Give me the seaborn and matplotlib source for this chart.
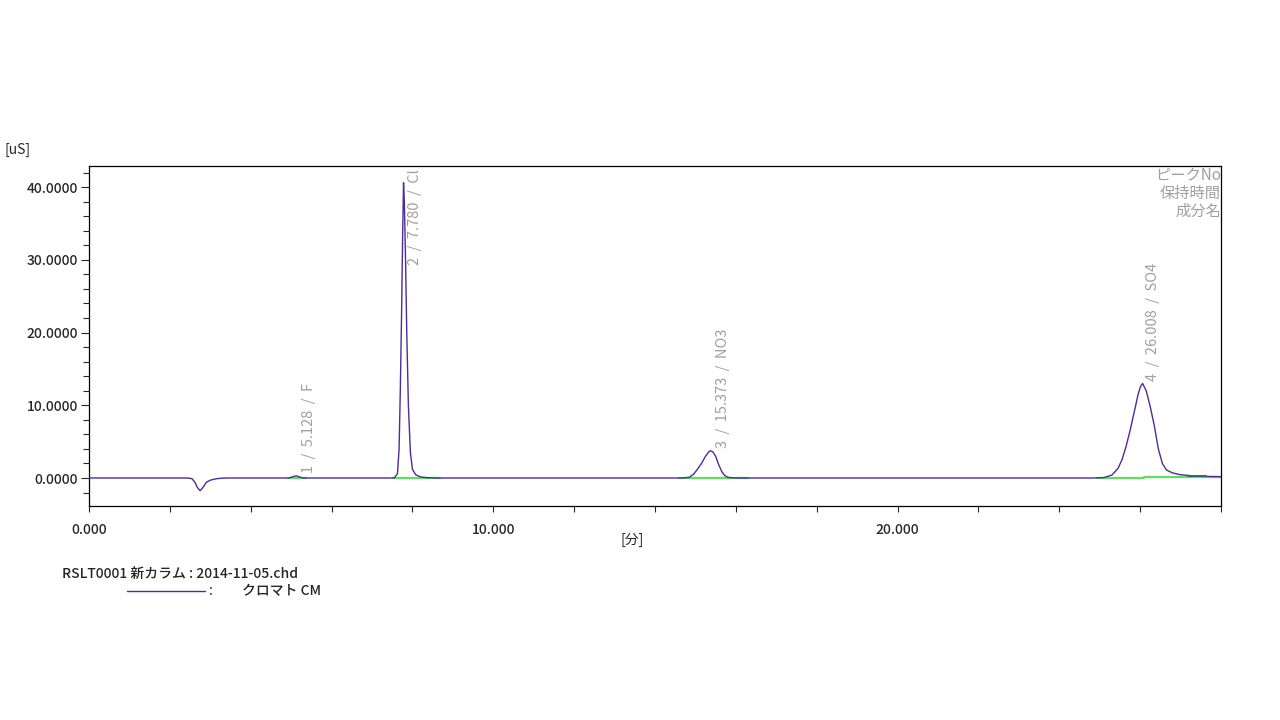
import numpy as np
import pandas as pd
import matplotlib
matplotlib.use('Agg')
import matplotlib.pyplot as plt
from matplotlib.ticker import MultipleLocator, FormatStrFormatter
import seaborn as sns

# chromatogram trace (time [min], signal [uS])
trace_time = [
  0.00, 2.45, 2.55, 2.62, 2.68, 2.75, 2.82, 2.90, 3.00, 3.15, 3.30, 3.50,
  4.95, 5.05, 5.13, 5.20, 5.30,
  7.55, 7.63, 7.67, 7.70, 7.73, 7.76, 7.78, 7.80, 7.83, 7.86, 7.90, 7.95,
  8.00, 8.08, 8.20, 8.35, 8.60,
  14.70, 14.85, 14.95, 15.05, 15.15, 15.25, 15.33, 15.37, 15.43, 15.50,
  15.57, 15.65, 15.72, 15.80, 15.90, 16.10,
  24.80, 25.10, 25.30, 25.45, 25.55, 25.65, 25.75, 25.85, 25.95, 26.01,
  26.06, 26.15, 26.25, 26.35, 26.45, 26.55, 26.65, 26.80, 27.00, 27.30,
  27.60, 28.00,
]
trace_signal = [
  0.00, 0.00, -0.10, -0.60, -1.30, -1.75, -1.30, -0.60, -0.30, -0.10, -0.02, 0.00,
  0.00, 0.20, 0.30, 0.15, 0.00,
  0.00, 0.60, 4.00, 12.0, 22.0, 34.0, 40.6, 38.0, 30.0, 20.0, 10.0, 3.50,
  1.20, 0.45, 0.15, 0.05, 0.00,
  0.00, 0.10, 0.50, 1.20, 2.00, 3.00, 3.60, 3.75, 3.60, 3.00,
  1.90, 0.90, 0.35, 0.10, 0.02, 0.00,
  0.00, 0.05, 0.40, 1.30, 2.50, 4.30, 6.50, 9.00, 11.5, 12.6,
  13.0, 12.0, 9.80, 7.20, 4.00, 2.00, 1.10, 0.70, 0.45, 0.30,
  0.22, 0.18,
]

# integration baselines (start, end, level at start, level at end)
base_start = [4.93, 7.52, 14.60, 24.93, 26.09]
base_end = [5.37, 8.69, 16.31, 26.09, 28.00]
base_y0 = [0.00, 0.00, 0.00, 0.00, 0.15]
base_y1 = [0.00, 0.00, 0.00, 0.00, 0.15]
tail_start, tail_end, tail_y = 27.18, 27.62, 0.25

# peak table
peak_no = [1, 2, 3, 4]
peak_time = [5.128, 7.780, 15.373, 26.008]
peak_height = [0.30, 40.6, 3.75, 13.0]
peak_name = ['F', 'Cl', 'NO3', 'SO4']

sns.set_style('white')
plt.rcParams['font.family'] = ['Noto Sans CJK JP', 'DejaVu Sans']

LINE = '#4a2c9c'
GREEN = '#5ee05e'
GREY = '#a0a0a0'

fig = plt.figure(figsize=(12.8, 7.2), dpi=100)
ax = fig.add_axes([89 / 1280, 1 - 506 / 720, (1221 - 89) / 1280, (506 - 166) / 720])

df = pd.DataFrame({'time': trace_time, 'signal': trace_signal})
sns.lineplot(data=df, x='time', y='signal', ax=ax, color=LINE, linewidth=1.0,
             estimator=None, sort=False, zorder=3)

for s, e, y0, y1 in zip(base_start, base_end, base_y0, base_y1):
  ax.plot([s, e], [y0, y1], color=GREEN, linewidth=1.6, zorder=2)
ax.plot([tail_start, tail_end], [tail_y, tail_y], color='#1f6f6f', linewidth=1.4, zorder=4)

ax.set_xlim(0, 28.0)
ax.set_ylim(-3.85, 42.9)

for n, t, h, name in zip(peak_no, peak_time, peak_height, peak_name):
  label = f'{n}  /  {t:.3f}  /  {name}'
  if h > 30:
    ax.annotate(label, xy=(t, 42.5), xytext=(8, 0), textcoords='offset points',
                rotation=90, ha='center', va='top', color=GREY, fontsize=10.5)
  else:
    ax.annotate(label, xy=(t, h), xytext=(9, 2), textcoords='offset points',
                rotation=90, ha='center', va='bottom', color=GREY, fontsize=10.5)

ax.text(1.0, 0.995, 'ピークNo\n保持時間\n成分名', transform=ax.transAxes,
        ha='right', va='top', color=GREY, fontsize=11, linespacing=1.05)

ax.xaxis.set_major_locator(MultipleLocator(10))
ax.xaxis.set_minor_locator(MultipleLocator(2))
ax.yaxis.set_major_locator(MultipleLocator(10))
ax.yaxis.set_minor_locator(MultipleLocator(2))
ax.xaxis.set_major_formatter(FormatStrFormatter('%.3f'))
ax.yaxis.set_major_formatter(FormatStrFormatter('%.4f'))
ax.tick_params(axis='x', which='both', direction='out', length=4, width=0.8,
               bottom=True, labelsize=10, pad=8)
ax.tick_params(axis='y', which='major', direction='out', length=6, width=0.8,
               left=True, labelsize=10, pad=2)
ax.tick_params(axis='y', which='minor', direction='out', length=4, width=0.8, left=True)
for lab in ax.get_xticklabels() + ax.get_yticklabels():
  lab.set_fontweight('medium')
ax.set_xlabel('')
ax.set_ylabel('')
for sp in ax.spines.values():
  sp.set_visible(True)
  sp.set_color('black')
  sp.set_linewidth(0.9)

fig.text(5 / 1280, 1 - 150 / 720, '[uS]', ha='left', va='center', fontsize=10)
fig.text(632 / 1280, 1 - 540 / 720, '[分]', ha='center', va='center', fontsize=10)
fig.text(62 / 1280, 1 - 574 / 720, 'RSLT0001 新カラム : 2014-11-05.chd',
         ha='left', va='center', fontsize=10, fontweight='medium')
fig.add_artist(plt.Line2D([127 / 1280, 205 / 1280], [1 - 591 / 720, 1 - 591 / 720],
                          color=LINE, linewidth=1.0))
fig.text(209 / 1280, 1 - 591 / 720, ':', ha='left', va='center', fontsize=10)
fig.text(242 / 1280, 1 - 591 / 720, 'クロマト CM', ha='left', va='center',
         fontsize=10, fontweight='medium')

fig.savefig('out.png', dpi=100)
